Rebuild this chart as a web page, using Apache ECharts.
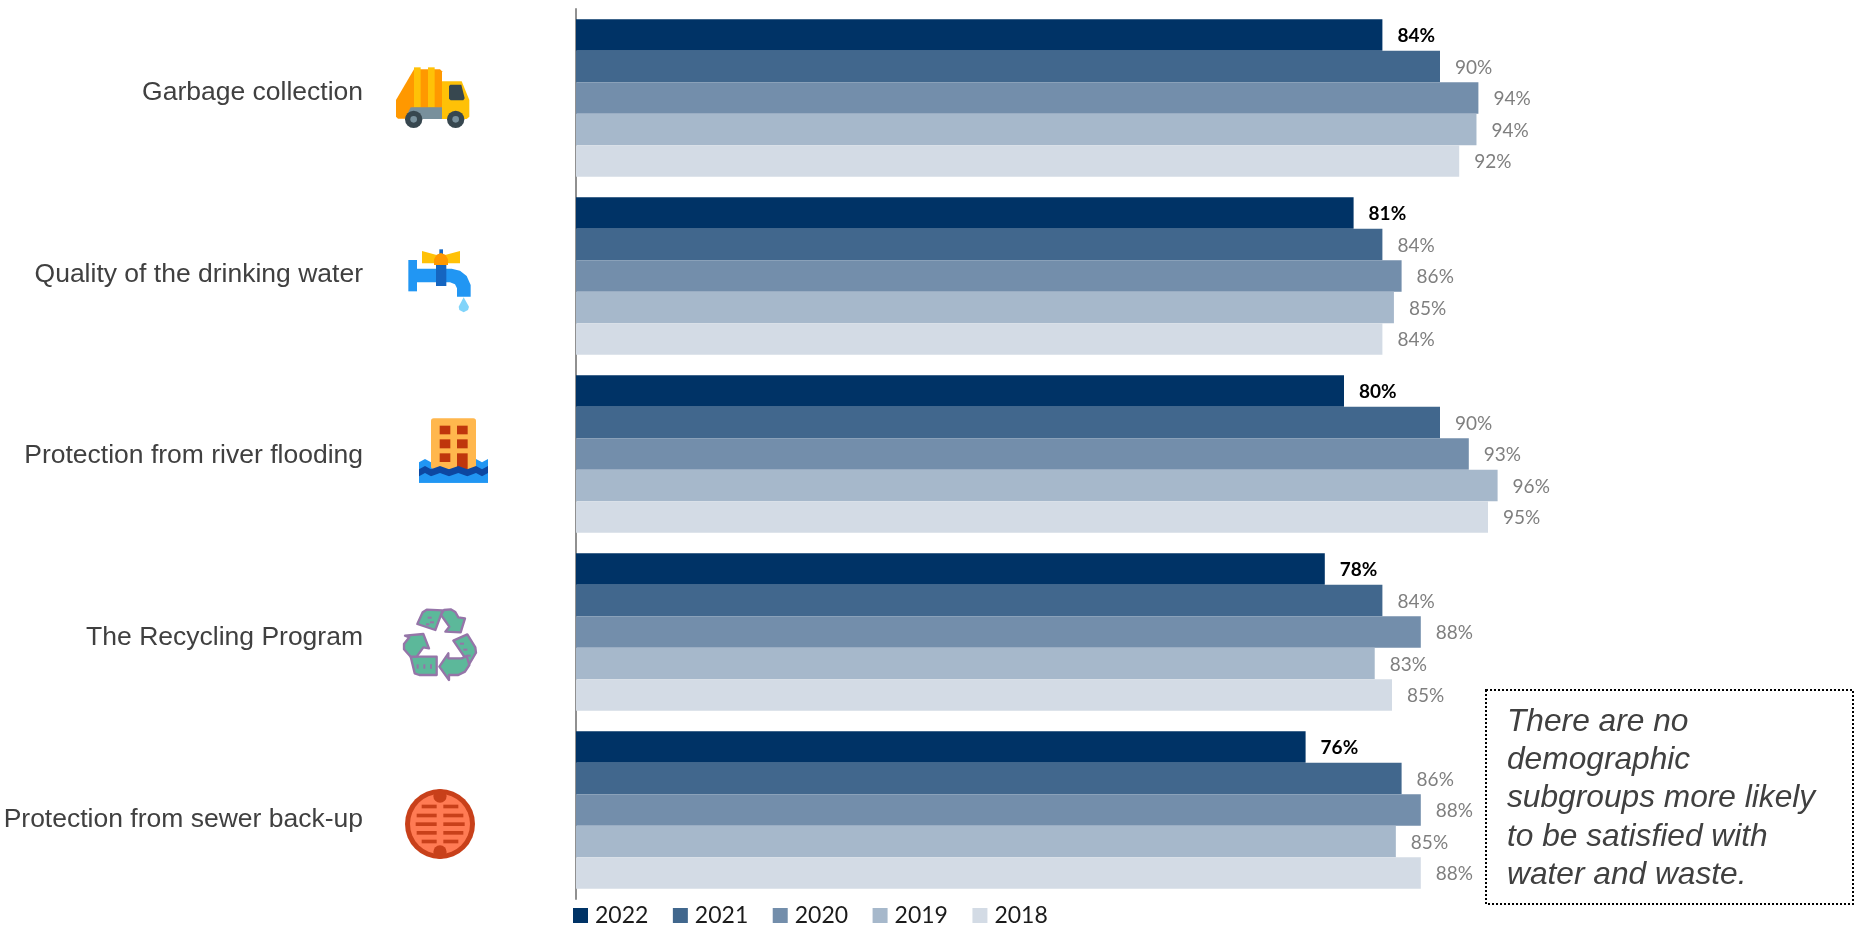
<!DOCTYPE html>
<html><head><meta charset="utf-8">
<style>html,body{margin:0;padding:0;background:#fff}#c{width:1854px;height:927px}</style>
<script src="https://cdn.jsdelivr.net/npm/echarts@6/dist/echarts.min.js"></script>
</head><body><div id="c"></div>
<script>
const categories = ["Garbage collection","Quality of the drinking water","Protection from river flooding","The Recycling Program","Protection from sewer back-up"];
const v2022 = [84,81,80,78,76];
const v2021 = [90,84,90,84,86];
const v2020 = [94,86,93,88,88];
const v2019 = [93.8,85.2,96,83.2,85.4];
const v2018 = [92,84,95,85,88];
const years = ["2022","2021","2020","2019","2018"];
const colors = ["#003366","#41678D","#738EAB","#A6B8CB","#D3DBE5"];
const note = "There are no\ndemographic\nsubgroups more likely\nto be satisfied with\nwater and waste.";

const valuesByYear = [v2022,v2021,v2020,v2019,v2018];
const series = years.map((y,i)=>({
  name:y,type:'bar',xAxisIndex:0,yAxisIndex:0,data:valuesByYear[i],
  barGap:0,barCategoryGap:'11.5%',
  itemStyle:{color:colors[i]},
  label:{show:true,position:'right',distance:15,offset:[0,1],
    fontFamily:'Lato',fontSize:19,
    fontWeight:i===0?'bold':'normal',color:i===0?'#000':'#7F7F7F',
    formatter:p=>Math.round(p.value)+'%'},
  emphasis:{disabled:true}
}));

function rawIcon(ox,oy,parts){
  return {type:'group',x:ox,y:oy,scaleX:1/3,scaleY:1/3,silent:true,children:parts.map(p=>{
    if(p.c) return {type:'circle',shape:{cx:p.c[0],cy:p.c[1],r:p.c[2]},style:{fill:p.f}};
    if(p.r) return {type:'rect',shape:{x:p.r[0],y:p.r[1],width:p.r[2],height:p.r[3],r:p.rr||0},style:{fill:p.f}};
    return {type:'polygon',shape:{points:p.p,smooth:p.s||0},style:{fill:p.f,stroke:p.st||null,lineWidth:p.lw||0,lineJoin:'round'}};
  })};
}
const truck = rawIcon(380,40,[
  {f:'#FF9800',p:[[48,180],[102,88],[180,88],[186,94],[186,236],[54,236],[48,230]]},
  {f:'#FFC107',r:[102,82,20,120]},{f:'#FFC107',r:[144,82,20,120]},
  {f:'#78909C',p:[[92,202],[186,202],[186,237],[75,237]]},
  {f:'#FFC107',p:[[186,124],[245,124],[268,180],[268,230],[260,237],[186,237]]},
  {f:'#37474F',p:[[207,138],[211,134],[244,134],[254,175],[250,181],[212,181],[207,176]]},
  {f:'#37474F',c:[101,238,26]},{f:'#78909C',c:[101,238,10]},
  {f:'#37474F',c:[227,238,26]},{f:'#78909C',c:[227,238,10]}
]);
const tap = rawIcon(380,40,[
  {f:'#2196F3',r:[85,660,26,94]},
  {f:'#2196F3',p:[[111,686],[215,686],[240,692],[260,708],[272,735],[272,770],[231,770],[231,745],[225,733],[210,727],[111,727]]},
  {f:'#1565C0',r:[168,675,31,63]},
  {f:'#FFC107',p:[[126,633],[170,645],[170,670],[126,670]]},
  {f:'#FFC107',p:[[240,633],[195,645],[195,670],[240,670]]},
  {f:'#1565C0',r:[178,628,11,14]},
  {f:'#FF9800',p:[[162,675],[162,658],[170,644],[183,639],[196,644],[204,658],[204,675]]},
  {f:'#81D4FA',p:[[251,772],[236,800],[238,810],[251,817],[264,810],[267,800]]}
]);
function wave(y0,y1){
  const pts=[];const xs=[117,135,153,180,207,235,262,288,306,324];
  xs.forEach((x,i)=>pts.push([x,y0+(i%2?-7:3)]));
  pts.push([324,y1],[117,y1]);return pts;
}
const flood = rawIcon(380,400,[
  {f:'#2196F3',p:wave(184,248)},
  {f:'#FFB74D',r:[153,55,135,152],rr:8},
  {f:'#BF360C',r:[179,77,32,26]},{f:'#BF360C',r:[231,77,32,26]},
  {f:'#BF360C',r:[179,118,32,27]},{f:'#BF360C',r:[231,118,32,27]},
  {f:'#BF360C',r:[179,160,32,26]},{f:'#BF360C',r:[231,160,32,50]},
  {f:'#0D47A1',p:wave(205,230)},
  {f:'#2196F3',p:wave(226,248)}
]);
const G='#5CB89A',P='#9575A8';
const recycle = rawIcon(380,400,[
  {f:G,st:P,lw:7,p:[[112,672],[128,637],[140,629],[188,631],[166,690]]},
  {f:G,st:P,lw:7,p:[[183,645],[192,630],[212,628],[226,636],[235,652],[255,655],[242,697],[196,695],[208,680]]},
  {f:G,st:P,lw:7,p:[[220,722],[262,703],[286,742],[288,758],[268,792]]},
  {f:G,st:P,lw:7,p:[[205,760],[205,775],[245,775],[260,768],[268,795],[255,815],[235,825],[207,825],[207,840],[178,800]]},
  {f:G,st:P,lw:7,p:[[92,770],[170,770],[170,825],[118,825],[104,820]]},
  {f:G,st:P,lw:7,p:[[75,707],[130,702],[147,745],[130,742],[110,770],[92,770],[72,748],[72,732],[88,712]]},
  {f:P,r:[143,650,12,6]},{f:P,r:[150,664,12,6]},{f:P,r:[138,670,10,6]},
  {f:P,r:[240,728,12,6]},{f:P,r:[250,746,12,6]},{f:P,r:[260,764,12,6]},
  {f:P,r:[110,793,6,13]},{f:P,r:[130,793,6,13]},{f:P,r:[150,793,6,13]}
]);
const slots=[[125,170,190,235,1219],[110,170,190,250,1246],[107,170,190,254,1272],[110,170,190,250,1298],[125,170,190,235,1324]];
const sewerParts=[{f:'#C8401A',c:[180,1272,105]},{f:'#FF7B54',c:[180,1272,90]},{f:'#C8401A',c:[180,1188,20]},{f:'#C8401A',c:[180,1356,20]}];
slots.forEach(s=>{sewerParts.push({f:'#C8401A',r:[s[0],s[4]-5,s[1]-s[0],11]},{f:'#C8401A',r:[s[2],s[4]-5,s[3]-s[2],11]});});
const sewer = rawIcon(380,400,sewerParts);

const chart = echarts.init(document.getElementById('c'),null,{renderer:'canvas'});
chart.setOption({
  animation:false,backgroundColor:'#fff',
  grid:[{left:576,top:9,width:960,height:890,containLabel:false},
        {left:576,top:2,width:960,height:908,containLabel:false}],
  xAxis:[{type:'value',gridIndex:0,min:0,max:100,show:false},
         {type:'value',gridIndex:1,min:0,max:100,show:false}],
  yAxis:[{type:'category',gridIndex:0,inverse:true,data:categories,offset:1,
          axisLine:{show:true,lineStyle:{color:'#909090',width:2}},axisTick:{show:false},axisLabel:{show:false},splitLine:{show:false}},
         {type:'category',gridIndex:1,inverse:true,data:categories,
          axisLine:{show:false},axisTick:{show:false},splitLine:{show:false},
          axisLabel:{show:true,margin:213,fontFamily:'Liberation Sans',fontSize:26.5,color:'#404040',align:'right',interval:0}}],
  legend:{show:true,left:573,top:904,padding:0,itemWidth:15,itemHeight:15,itemGap:24.5,icon:'rect',data:years,selectedMode:false,
    textStyle:{fontFamily:'Lato',fontSize:23,color:'#1a1a1a',padding:[0,0,0,2]}},
  series:series,
  graphic:{elements:[
    truck,tap,flood,recycle,sewer,
    {type:'rect',silent:true,shape:{x:1486,y:690,width:367,height:214},style:{fill:'#fff',stroke:'#000',lineWidth:2,lineDash:[2,2]}},
    {type:'text',silent:true,x:1507,y:703,style:{text:note,fontFamily:'Liberation Sans',fontStyle:'italic',fontSize:31.7,lineHeight:38.2,fill:'#404040',align:'left',verticalAlign:'top'}}
  ]}
});
</script></body></html>
